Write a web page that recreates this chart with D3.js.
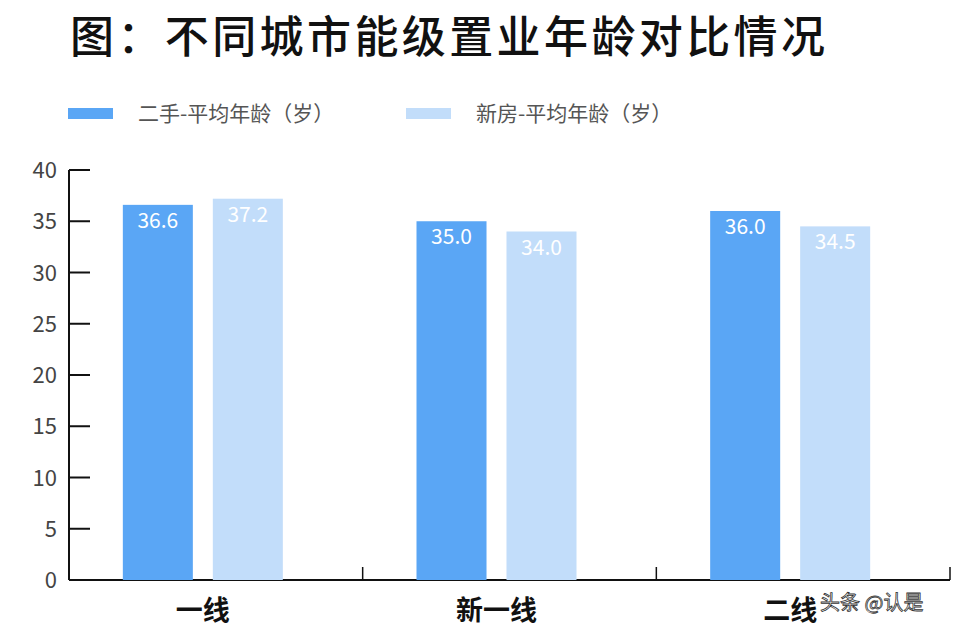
<!DOCTYPE html><html><head><meta charset="utf-8"><script src="https://cdn.jsdelivr.net/npm/d3@7"></script>
<style>body{margin:0;background:#fff}text{font-family:"Noto Sans CJK SC","Open Sans",sans-serif}</style></head><body><svg id="c" width="964" height="630"></svg><script>
const categories=["一线","新一线","二线"];
const seriesNames=["二手-平均年龄（岁）","新房-平均年龄（岁）"];
const secondHand=[36.6,35.0,36.0];
const newHome=[37.2,34.0,34.5];
const yTicks=[0,5,10,15,20,25,30,35,40];
const colors=["#5aa6f5","#c2ddfa"];
const svg=d3.select("#c");
svg.append("text").attr("x",70).attr("y",53).attr("font-size",44).attr("font-weight",500).attr("textLength",755).attr("fill","#111").text("图：不同城市能级置业年龄对比情况");
seriesNames.forEach((n,i)=>{const x=[68,406][i];
svg.append("rect").attr("x",x).attr("y",108).attr("width",45).attr("height",11).attr("fill",colors[i]);
svg.append("text").attr("x",x+70).attr("y",121).attr("font-size",21).attr("fill","#555").text(n);});
const y=d3.scaleLinear().domain([0,40]).range([580,170]);
const x=d3.scaleBand().domain(categories).range([69,950]);
const g=svg.append("g");
g.append("line").attr("x1",69).attr("x2",69).attr("y1",y(40)).attr("y2",580).attr("stroke","#111").attr("stroke-width",2);
g.append("line").attr("x1",69).attr("x2",950).attr("y1",580).attr("y2",580).attr("stroke","#111").attr("stroke-width",2);
yTicks.forEach(t=>{g.append("line").attr("x1",69).attr("x2",90).attr("y1",y(t)).attr("y2",y(t)).attr("stroke","#111").attr("stroke-width",2);
g.append("text").attr("x",57).attr("y",y(t)+8).attr("text-anchor","end").attr("font-size",22).attr("fill","#444").text(t);});
categories.forEach((c,i)=>{const x1=x(c)+x.bandwidth();g.append("line").attr("x1",x1).attr("x2",x1).attr("y1",580).attr("y2",567).attr("stroke","#111").attr("stroke-width",1.5);});
const data=[secondHand,newHome];
const inner=d3.scaleBand().domain([0,1]).range([0,160]).paddingInner(0.222);
categories.forEach((c,i)=>{const base=x(c)+x.bandwidth()/2-93;
data.forEach((s,j)=>{const bx=base+inner(j),v=s[i];
svg.append("rect").attr("x",bx).attr("y",y(v)).attr("width",inner.bandwidth()).attr("height",580-y(v)).attr("fill",colors[j]);
svg.append("text").attr("x",bx+inner.bandwidth()/2).attr("y",y(v)+23).attr("text-anchor","middle").attr("font-size",21).attr("fill","#fff").text(v.toFixed(1));});
svg.append("text").attr("x",base+80).attr("y",620).attr("text-anchor","middle").attr("font-size",27).attr("font-weight","bold").attr("fill","#111").text(c);});
svg.append("text").attr("x",820).attr("y",610).attr("font-size",20).attr("fill","#fff").attr("stroke","#333").attr("stroke-width",0.8).text("头条 @认是");
</script></body></html>
